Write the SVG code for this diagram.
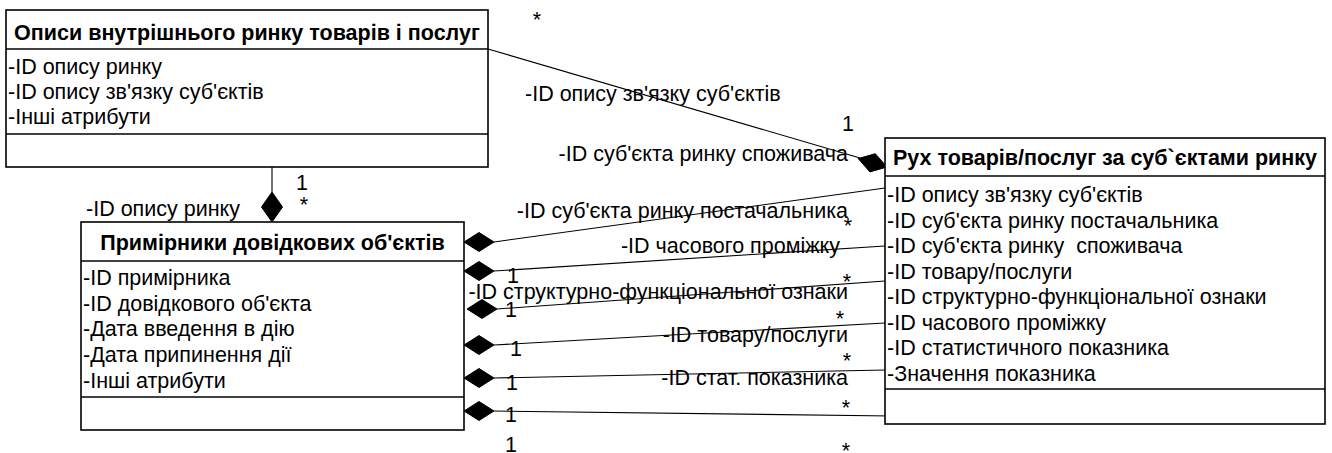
<svg xmlns="http://www.w3.org/2000/svg" width="1332" height="453" viewBox="0 0 1332 453">
<style>
text{font-family:"Liberation Sans",Arial,sans-serif;font-size:21.5px;fill:#000}
.h{font-weight:bold;text-anchor:middle}
.box{fill:#fff;stroke:#000;stroke-width:1.6}
.sep{stroke:#000;stroke-width:1.6}
.ln{stroke:#000;stroke-width:1.1;fill:none}
.dm{fill:#000;stroke:#000;stroke-width:1}
.e{text-anchor:end}
.m{text-anchor:middle}
</style>
<rect width="1332" height="453" fill="#fff"/>
<g id="connectors">
<line class="ln" x1="272" y1="167" x2="272" y2="192"/>
<polygon class="dm" points="272,192 282.5,207 272,222 261.5,207"/>
<line class="ln" x1="488" y1="49" x2="860" y2="158"/>
<polygon class="dm" points="887,167 875.3,153.7 858.2,158.6 869.9,171.9"/>
<polygon class="dm" points="464,242 479,232.5 494,242 479,251.5"/>
<line class="ln" x1="494" y1="242" x2="885" y2="188"/>
<polygon class="dm" points="464,271 479,261.5 494,271 479,280.5"/>
<line class="ln" x1="494" y1="271" x2="885" y2="246"/>
<polygon class="dm" points="467,309 482,299.5 497,309 482,318.5"/>
<line class="ln" x1="497" y1="309" x2="885" y2="281"/>
<polygon class="dm" points="464,345 479,335.5 494,345 479,354.5"/>
<line class="ln" x1="494" y1="345" x2="885" y2="323"/>
<polygon class="dm" points="464,378 479,368.5 494,378 479,387.5"/>
<line class="ln" x1="494" y1="378" x2="885" y2="370"/>
<polygon class="dm" points="464,411 479,401.5 494,411 479,420.5"/>
<line class="ln" x1="494" y1="411" x2="892" y2="416"/>
<text class="m" x="537" y="27">*</text>
<text x="525" y="101">-ID опису зв'язку суб'єктів</text>
<text class="m" x="848" y="131">1</text>
<text class="e" x="848" y="161">-ID суб'єкта ринку споживача</text>
<text class="m" x="302" y="190">1</text>
<text class="m" x="304" y="212">*</text>
<text class="e" x="240" y="216">-ID опису ринку</text>
<text class="e" x="848" y="218">-ID суб'єкта ринку постачальника</text>
<text class="m" x="848" y="233">*</text>
<text class="e" x="840" y="253">-ID часового проміжку</text>
<text class="m" x="513" y="283">1</text>
<text class="m" x="847" y="289">*</text>
<text class="e" x="848" y="299">-ID структурно-функціональної ознаки</text>
<text class="m" x="511" y="317">1</text>
<text class="m" x="840" y="326">*</text>
<text class="e" x="848" y="342">-ID товару/послуги</text>
<text class="m" x="516" y="356">1</text>
<text class="m" x="847" y="368">*</text>
<text class="e" x="848" y="385">-ID стат. показника</text>
<text class="m" x="512" y="390">1</text>
<text class="m" x="846" y="415">*</text>
<text class="m" x="511" y="422">1</text>
<text class="m" x="511" y="452">1</text>
<text class="m" x="846" y="458">*</text>
</g>
<g id="node-market-descriptions">
<rect class="box" x="6" y="10" width="482" height="157"/>
<line class="sep" x1="6" y1="49" x2="488" y2="49"/>
<line class="sep" x1="6" y1="134" x2="488" y2="134"/>
<text class="h" x="247" y="40">Описи внутрішнього ринку товарів і послуг</text>
<text x="8" y="74">-ID опису ринку</text>
<text x="8" y="99">-ID опису зв'язку суб'єктів</text>
<text x="8" y="124">-Інші атрибути</text>
</g>
<g id="node-reference-instances">
<rect class="box" x="81" y="222" width="383" height="208"/>
<line class="sep" x1="81" y1="261" x2="464" y2="261"/>
<line class="sep" x1="81" y1="397" x2="464" y2="397"/>
<text class="h" x="272.5" y="250">Примірники довідкових об'єктів</text>
<text x="83" y="285">-ID примірника</text>
<text x="83" y="311">-ID довідкового об'єкта</text>
<text x="83" y="336">-Дата введення в дію</text>
<text x="83" y="362">-Дата припинення дії</text>
<text x="83" y="388">-Інші атрибути</text>
</g>
<g id="node-goods-movement">
<rect class="box" x="885" y="138" width="440" height="286"/>
<line class="sep" x1="885" y1="176" x2="1325" y2="176"/>
<line class="sep" x1="885" y1="389" x2="1325" y2="389"/>
<text class="h" x="1105" y="165">Рух товарів/послуг за суб`єктами ринку</text>
<text x="887" y="202">-ID опису зв'язку суб'єктів</text>
<text x="887" y="227.5">-ID суб'єкта ринку постачальника</text>
<text x="887" y="253" xml:space="preserve">-ID суб'єкта ринку  споживача</text>
<text x="887" y="278.5">-ID товару/послуги</text>
<text x="887" y="304">-ID структурно-функціональної ознаки</text>
<text x="887" y="329.5">-ID часового проміжку</text>
<text x="887" y="355">-ID статистичного показника</text>
<text x="887" y="380.5">-Значення показника</text>
</g>
</svg>
